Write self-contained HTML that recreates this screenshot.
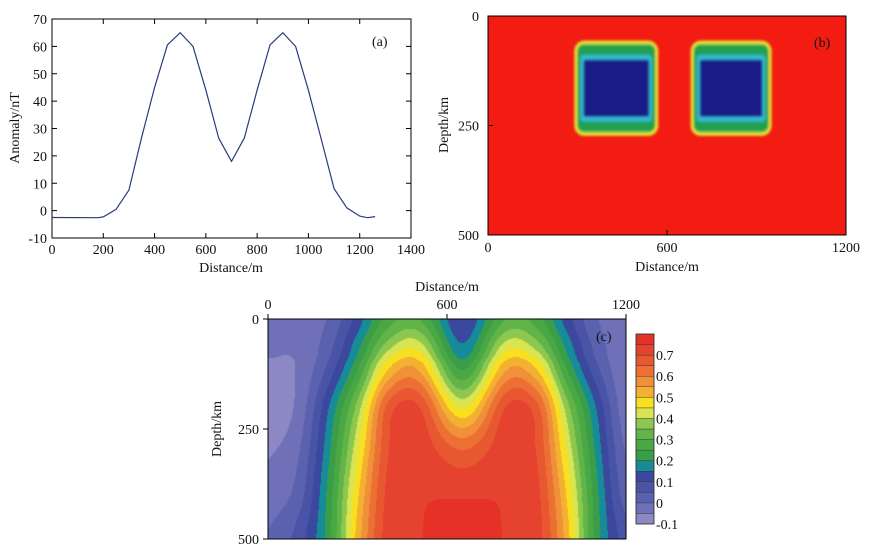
<!DOCTYPE html>
<html><head><meta charset="utf-8"><style>
body{margin:0;background:#fff;}
svg text{font-family:"Liberation Serif",serif;font-size:14px;fill:#111;}
</style></head><body>
<svg width="870" height="554" viewBox="0 0 870 554" xmlns="http://www.w3.org/2000/svg">
<defs><filter id="bl" x="-20%" y="-20%" width="140%" height="140%"><feGaussianBlur stdDeviation="1.3"/></filter>
<clipPath id="cb"><rect x="488" y="16" width="358" height="219"/></clipPath></defs>
<g id="pa"></g>
<g id="pb"></g>
<foreignObject x="268" y="319" width="358" height="220"><canvas xmlns="http://www.w3.org/1999/xhtml" id="cv" width="358" height="220" style="display:block"></canvas></foreignObject>
<g id="pc2"></g>
</svg>
<script>
// Panel (a) data
const aDist=[0,180,200,250,300,350,400,450,500,550,600,650,700,750,800,850,900,950,1000,1050,1100,1150,1200,1230,1260];
const aAnom=[-2.5,-2.6,-2.3,0.5,7.5,27,45,60.5,65,60,44,26.5,18,26.5,44,60.5,65,60,44,26,8,1,-2,-2.6,-2.2];
const aXTicks=[0,200,400,600,800,1000,1200,1400];
const aYTicks=[-10,0,10,20,30,40,50,60,70];
// Panel (b) blocks (inner core, distance m / depth km)
const bBlocks=[[320,540],[710,920]];
const bDepth=[100,230];
const bXTicks=[0,600,1200];
const bYTicks=[0,250,500];
// Panel (c) grid values
const cDist=[0,100,200,300,400,500,650,800,900,1000,1100,1200];
const cDepth=[0,50,100,200,300,400,500];
const cVals=[
[-0.05,-0.05,-0.02,0.1,0.25,0.28,0.08,0.28,0.25,0.1,-0.02,-0.05],
[-0.06,-0.06,0.0,0.15,0.33,0.38,0.12,0.38,0.33,0.15,0.0,-0.06],
[-0.08,-0.07,0.03,0.21,0.45,0.5,0.2,0.5,0.45,0.21,0.03,-0.07],
[-0.1,-0.06,0.12,0.35,0.64,0.68,0.42,0.68,0.64,0.35,0.12,-0.06],
[-0.08,-0.03,0.16,0.42,0.67,0.71,0.63,0.71,0.67,0.42,0.16,-0.03],
[-0.05,0.0,0.19,0.47,0.69,0.72,0.72,0.72,0.69,0.47,0.19,0.0],
[-0.02,0.05,0.2,0.5,0.7,0.72,0.77,0.72,0.7,0.5,0.2,0.05]];
const cbLabels=[-0.1,0,0.1,0.2,0.3,0.4,0.5,0.6,0.7];
const cColors=["#8b88c4","#7070b8","#5a62b0","#4a54a6","#3a489e","#168c98","#3a9e48","#4aa844","#62b448","#8cc850","#d8e450","#f8e020","#f4b030","#f09038","#ec7034","#e85830","#e64230","#e43228"];

const NS="http://www.w3.org/2000/svg";
function mk(p,t,a,txt){const e=document.createElementNS(NS,t);for(const k in a)e.setAttribute(k,a[k]);if(txt!==undefined)e.textContent=txt;p.appendChild(e);return e;}

// ---- Panel a
const pa=document.getElementById('pa');
const ax=v=>52+v/1400*359, ay=v=>238-(v+10)/80*219;
let r=mk(pa,'rect',{x:52,y:19,width:359,height:219,fill:'none',stroke:'#000','stroke-width':1});

aXTicks.forEach(t=>{mk(pa,'line',{x1:ax(t),x2:ax(t),y1:238,y2:233,stroke:'#000'});mk(pa,'line',{x1:ax(t),x2:ax(t),y1:19,y2:24,stroke:'#000'});
 const e=mk(pa,'text',{x:ax(t),y:254,'text-anchor':'middle'},t);});
aYTicks.forEach(t=>{mk(pa,'line',{x1:52,x2:57,y1:ay(t),y2:ay(t),stroke:'#000'});mk(pa,'line',{x1:411,x2:406,y1:ay(t),y2:ay(t),stroke:'#000'});
 const e=mk(pa,'text',{x:47,y:ay(t)+5,'text-anchor':'end'},t);});
let l=mk(pa,'path',{d:aDist.map((d,i)=>(i?'L':'M')+ax(d).toFixed(1)+','+ay(aAnom[i]).toFixed(1)).join(''),fill:'none',stroke:'#2a3c7a','stroke-width':1.2});

let t=mk(pa,'text',{x:231,y:272,'text-anchor':'middle'},'Distance/m');
t=mk(pa,'text',{x:0,y:0,'text-anchor':'middle',transform:'translate(19,128) rotate(-90)'},'Anomaly/nT');
t=mk(pa,'text',{x:372,y:46},'(a)');

// ---- Panel b
const pb=document.getElementById('pb');
const bx=v=>488+v/1200*358, by=v=>16+v/500*219;
r=mk(pb,'rect',{x:488,y:16,width:358,height:219,fill:'#f21c12'});
const bg=mk(pb,'g',{'clip-path':'url(#cb)',filter:'url(#bl)'});
// [color, horizontal offset, vertical offset]
const layers=[['#f4f030',9,19],['#b0d840',7,17],['#20a050',6,15],['#30b8d0',3,5],['#1a1a88',0,0]];
bBlocks.forEach(b=>{layers.forEach(([c,ox,oy])=>{const x0=bx(b[0])-ox,x1=bx(b[1])+ox,y0=by(bDepth[0])-oy,y1=by(bDepth[1])+oy;
 const e=mk(bg,'rect',{x:x0,y:y0,width:x1-x0,height:y1-y0,rx:Math.max(2,ox*1.1),fill:c});});});
mk(pb,'rect',{x:488,y:16,width:358,height:219,fill:'none',stroke:'#000'});
bXTicks.forEach(v=>{mk(pb,'line',{x1:bx(v),x2:bx(v),y1:235,y2:230,stroke:'#000'});const e=mk(pb,'text',{x:bx(v),y:252,'text-anchor':'middle'},v);});
bYTicks.forEach(v=>{mk(pb,'line',{x1:488,x2:493,y1:by(v),y2:by(v),stroke:'#000'});const e=mk(pb,'text',{x:479,y:by(v)+5,'text-anchor':'end'},v);});
t=mk(pb,'text',{x:667,y:271,'text-anchor':'middle'},'Distance/m');
t=mk(pb,'text',{x:0,y:0,'text-anchor':'middle',transform:'translate(448,125) rotate(-90)'},'Depth/km');
t=mk(pb,'text',{x:814,y:47},'(b)');

// ---- Panel c
function idx(arr,v){let i=0;while(i<arr.length-2&&v>arr[i+1])i++;return [i,(v-arr[i])/(arr[i+1]-arr[i])];}
function cr(p0,p1,p2,p3,t){return 0.5*((2*p1)+(-p0+p2)*t+(2*p0-5*p1+4*p2-p3)*t*t+(-p0+3*p1-3*p2+p3)*t*t*t);}
function g(j,i){j=Math.max(0,Math.min(cDepth.length-1,j));i=Math.max(0,Math.min(cDist.length-1,i));return cVals[j][i];}
function val(x,d){const [i,u]=idx(cDist,x),[j,w]=idx(cDepth,d);const rows=[];
 for(let k=-1;k<=2;k++)rows.push(cr(g(j+k,i-1),g(j+k,i),g(j+k,i+1),g(j+k,i+2),u));
 return cr(rows[0],rows[1],rows[2],rows[3],w);}
const cv=document.getElementById('cv'),ctx=cv.getContext('2d');
for(let py=0;py<220;py++)for(let px=0;px<358;px++){const v=val(px/358*1200,py/220*500);let k=Math.floor((v+0.125)/0.05);k=Math.max(0,Math.min(17,k));ctx.fillStyle=cColors[k];ctx.fillRect(px,py,1,1);}
const pc=document.getElementById('pc2');
const cx=v=>268+v/1200*358, cy=v=>319+v/500*220;
mk(pc,'rect',{x:268,y:319,width:358,height:220,fill:'none',stroke:'#000'});
bXTicks.forEach(v=>{mk(pc,'line',{x1:cx(v),x2:cx(v),y1:319,y2:314,stroke:'#000'});const e=mk(pc,'text',{x:cx(v),y:309,'text-anchor':'middle'},v);});
bYTicks.forEach(v=>{mk(pc,'line',{x1:268,x2:263,y1:cy(v),y2:cy(v),stroke:'#000'});const e=mk(pc,'text',{x:259,y:cy(v)+5,'text-anchor':'end'},v);});
t=mk(pc,'text',{x:447,y:291,'text-anchor':'middle'},'Distance/m');
t=mk(pc,'text',{x:0,y:0,'text-anchor':'middle',transform:'translate(221,429) rotate(-90)'},'Depth/km');
t=mk(pc,'text',{x:596,y:341},'(c)');
const cby=v=>524-(v+0.1)/0.9*190;
cColors.forEach((c,k)=>{const lo=-0.1+k*0.05;const e=mk(pc,'rect',{x:636,y:cby(lo+0.05),width:18,height:cby(lo)-cby(lo+0.05),fill:c,stroke:'#333','stroke-width':0.4});});
mk(pc,'rect',{x:636,y:334,width:18,height:190,fill:'none',stroke:'#333','stroke-width':0.8});
cbLabels.forEach(v=>{const e=mk(pc,'text',{x:656,y:cby(v)+5},v);});
</script>
</body></html>
